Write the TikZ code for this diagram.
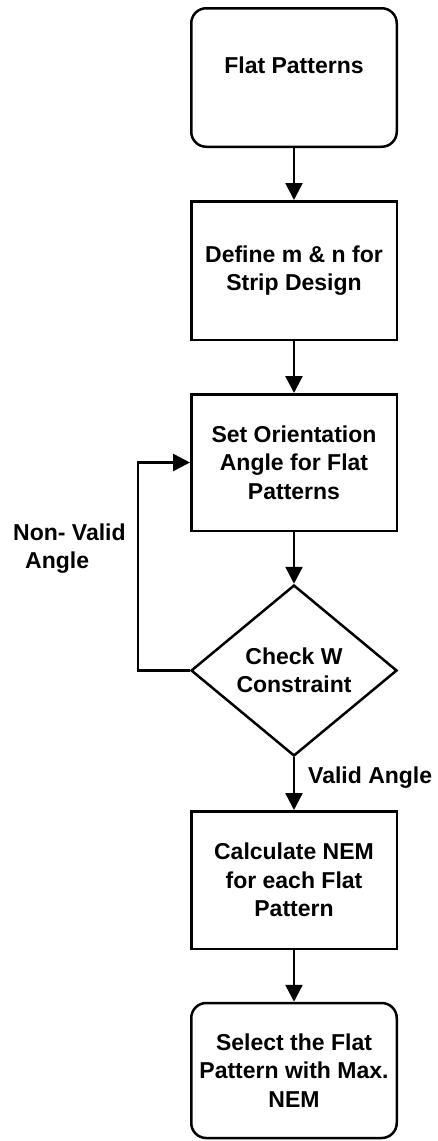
\documentclass[tikz,border=0pt]{standalone}
\usepackage{fontspec}
\setmainfont{Liberation Sans}
\usetikzlibrary{shapes.geometric,arrows.meta,calc}
\begin{document}
\begin{tikzpicture}[x=1pt,y=-1pt,
  every node/.style={font=\fontsize{23}{28.5}\selectfont\bfseries},
  box/.style={draw, line width=2.5pt, minimum width=205.5pt, inner sep=0pt, align=center},
  rbox/.style={box, rounded corners=15pt},
  decision/.style={draw, diamond, line width=2.5pt, minimum width=206pt, minimum height=171pt, inner sep=0pt, align=center},
  flow/.style={line width=2.5pt, -{Triangle[length=17pt,width=17pt]}},
  note/.style={align=left, inner sep=0pt}]
  \useasboundingbox (0,0) rectangle (437,1141);

  % process chain
  \node[rbox, minimum height=138.5pt] (start) at (294,77.5) {};
  \node (starttxt) at (294,65) {Flat Patterns};
  \node[box, minimum height=138.5pt] (strip) at (294,270.5) {Define m \& n for\\Strip Design};
  \node[box, minimum height=136.5pt] (orient) at (294,462.5) {Set Orientation\\Angle for Flat\\Patterns};
  \node[decision] (check) at (294,670.5) {Check W\\Constraint};
  \node[box, minimum height=137.5pt] (nem) at (294,880) {Calculate NEM\\for each Flat\\Pattern};
  \node[rbox, minimum height=135pt] (select) at (294,1070.5) {Select the Flat\\Pattern with Max.\\NEM};

  % connectors
  \draw[flow] (start) -- (strip);
  \draw[flow] (strip) -- (orient);
  \draw[flow] (orient) -- (check);
  \draw[flow] (check) -- (nem);
  \draw[flow] (nem) -- (select);
  \coordinate (loop) at (138,670.5);
  \draw[flow] (check.west) -- (loop) |- (orient.west);

  % branch labels
  \node[note, anchor=west] (invalid) at (13,548.5) {Non- Valid\\\hspace*{12pt}Angle};
  \node[note, anchor=west] (valid) at (308,778) {Valid Angle};
\end{tikzpicture}
\end{document}
